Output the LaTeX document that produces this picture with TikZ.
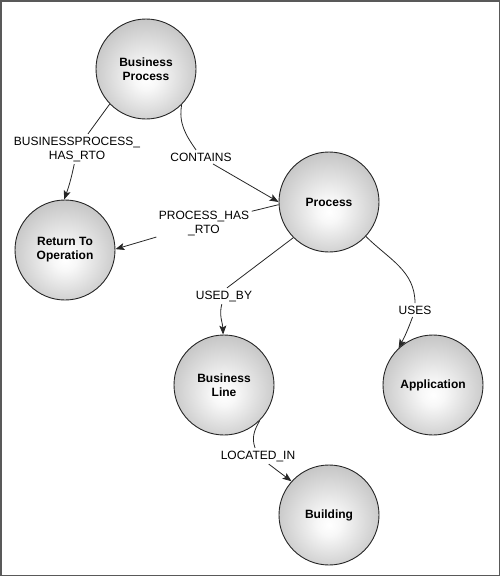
\documentclass[tikz,border=0pt]{standalone}
\usepackage{fontspec}
\setmainfont{Liberation Sans}
\usetikzlibrary{arrows.meta}
\pgfdeclareradialshading{nodeshade}{\pgfpoint{0bp}{-5bp}}{color(0bp)=(white); color(6bp)=(white!97!black); color(29bp)=(black!24); color(50bp)=(black!24)}
\tikzset{
  ent/.style={circle, draw=black!85, line width=0.9pt, minimum size=100pt, inner sep=0pt,
    shading=nodeshade, align=center, font=\fontsize{12}{14}\selectfont\bfseries},
  rel/.style={align=center, inner sep=2.5pt, font=\fontsize{12}{14}\selectfont},
  conn/.style={draw=black!85, line width=0.8pt},
  arr/.style={conn, -{Stealth[length=9pt,width=7pt,inset=2pt]}}
}
\begin{document}
\begin{tikzpicture}[x=1pt,y=-1pt]
\useasboundingbox (0,0) rectangle (500,576);
\draw[black!65, line width=1.5pt] (0.75,0.75) rectangle (499.25,575.25);

\node[ent] (bp)  at (146,69)  {Business\\Process};
\node[ent] (proc) at (329,202) {Process};
\node[ent] (rto) at (65,250)  {Return To\\Operation};
\node[ent] (bl)  at (224,385) {Business\\Line};
\node[ent] (app) at (433,385) {Application};
\node[ent] (bld) at (329,515) {Building};

\node[rel] (l1) at (77,149)  {BUSINESSPROCESS\_\\HAS\_RTO};
\node[rel] (l2) at (201,157) {CONTAINS};
\node[rel] (l3) at (204,223) {PROCESS\_HAS\\\_RTO};
\node[rel] (l4) at (224,296) {USED\_BY};
\node[rel] (l5) at (415,310) {USES};
\node[rel] (l6) at (258,456) {LOCATED\_IN};

% BUSINESSPROCESS_HAS_RTO
\draw[conn] (bp.224) -- (l1);
\draw[arr] (l1) to[bend left=4] (rto.91);
% CONTAINS
\draw[conn] (bp.-45) to[out=-100, in=125] (l2);
\draw[arr] (l2) -- (proc.180);
% PROCESS_HAS_RTO
\draw[conn] (proc.183) -- (l3);
\draw[arr] (l3) -- (rto.1);
% USED_BY
\draw[conn] (proc.225) -- (l4.70);
\draw[arr] (l4) to[out=-105, in=92] (bl.91);
% USES
\draw[conn] (proc.-43) to[out=-45, in=90] (l5);
\draw[arr] (l5) to[bend left=4] (app.133);
% LOCATED_IN
\draw[conn] (bl.-45) to[out=-120, in=110] (l6);
\draw[arr] (l6) -- (bld.138);
\end{tikzpicture}
\end{document}
